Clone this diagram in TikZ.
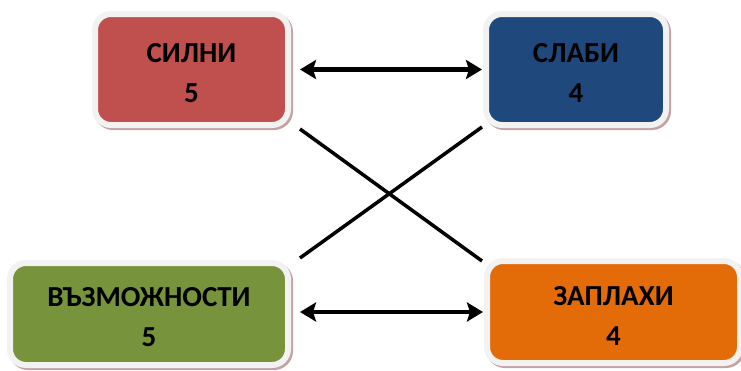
\documentclass[tikz,border=0pt]{standalone}
\usepackage{fontspec}
\setmainfont{Carlito}
\usetikzlibrary{arrows.meta,calc,shadows}
\definecolor{redfill}{HTML}{C0504D}
\definecolor{bluefill}{HTML}{1F497D}
\definecolor{greenfill}{HTML}{77933C}
\definecolor{orangefill}{HTML}{E36C09}
\definecolor{ringgray}{HTML}{F2F2F2}
\definecolor{shadowpink}{HTML}{C4A2A4}
\newcommand{\topstrutx}{\rule{0pt}{26pt}}
\tikzset{
  swotbox/.style={rounded corners=16pt, draw=ringgray, line width=6pt,
    general shadow={shadow xshift=2pt, shadow yshift=-2pt, fill=shadowpink, draw=shadowpink, line width=6pt},
    inner sep=0pt, align=center, text=black,
    font=\fontsize{29}{40}\selectfont\bfseries},
  twoway/.style={line width=4.5pt, {Stealth[length=16pt,width=19pt,inset=3pt]}-{Stealth[length=16pt,width=19pt,inset=3pt]}},
  crossline/.style={line width=3.5pt}
}
\begin{document}
\begin{tikzpicture}[x=1pt,y=-1pt]
\useasboundingbox (0,0) rectangle (741,370);
\node[swotbox, fill=redfill, minimum width=193pt, minimum height=111pt] (r) at (191.5,69.5) {\topstrutx СИЛНИ\\5};
\node[swotbox, fill=bluefill, minimum width=180pt, minimum height=111pt] (b) at (576,69.5) {\topstrutx СЛАБИ\\4};
\node[swotbox, fill=greenfill, minimum width=278pt, minimum height=102pt] (g) at (149,314) {\topstrutx ВЪЗМОЖНОСТИ\\5};
\node[swotbox, fill=orangefill, minimum width=253pt, minimum height=102pt] (o) at (613.5,312) {\topstrutx ЗАПЛАХИ\\4};
\draw[twoway, shorten <=9pt, shorten >=1pt] (r.east) -- (b.west);
\draw[twoway, shorten <=9pt, shorten >=1pt] (g.east |- o.west) -- (o.west);
\draw[crossline] ($(r.south east)+(9,1)$) -- ($(o.north west)+(-2,3)$);
\draw[crossline] ($(g.north east)+(9,-2)$) -- ($(b.south west)+(-1,-1)$);
\end{tikzpicture}
\end{document}
